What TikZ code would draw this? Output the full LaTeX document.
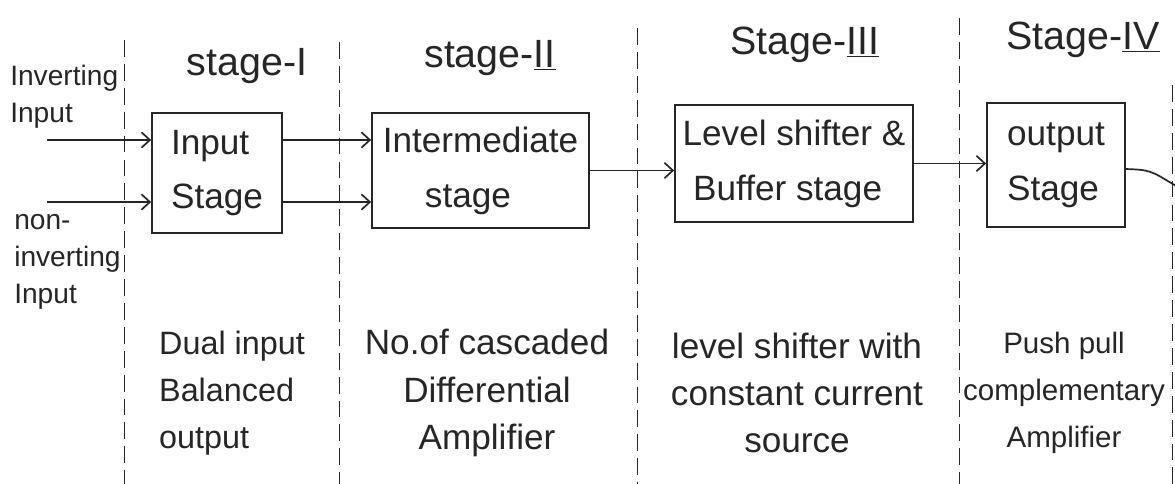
\documentclass[tikz,border=0pt]{standalone}
\usepackage{fontspec}
\setmainfont{Liberation Sans}
\usetikzlibrary{arrows.meta}
\definecolor{inkc}{HTML}{262626}
\begin{document}
\begin{tikzpicture}[x=0.025cm,y=-0.025cm,
  ink/.style={draw=inkc,line width=1.2pt},
  box/.style={ink,rectangle,inner sep=0pt,align=left,text=inkc,font=\fontsize{25}{39}\selectfont},
  arr/.style={ink,-{Straight Barb[length=6pt,width=11pt]}},
  divider/.style={draw=inkc,line width=0.7pt,dash pattern=on 12pt off 5pt},
  stagelbl/.style={text=inkc,inner sep=0pt,font=\fontsize{28}{30}\selectfont},
  sidelbl/.style={text=inkc,inner sep=0pt,align=left,anchor=west,font=\fontsize{20}{26.5}\selectfont},
  desc/.style={text=inkc,inner sep=0pt}]
\fill[white] (0,0) rectangle (1175,484);
\useasboundingbox (0,0) rectangle (1175,484);

% dividers
\draw[divider] (124,40) -- (124,484);
\draw[divider] (339,42) -- (339,484);
\draw[divider] (637,28) -- (637,484);
\draw[divider] (959,18) -- (959,484);
\draw[divider] (1172,85) -- (1172,484);

% stage labels
\node[stagelbl] (s1) at (247,66) {stage-I};
\node[stagelbl] (s2) at (490,58) {stage-\underline{II}};
\node[stagelbl] (s3) at (805,45) {Stage-\underline{III}};
\node[stagelbl] (s4) at (1083,40) {Stage-\underline{IV}};

% boxes
\node[box,minimum width=3.25cm,minimum height=3cm] (b1) at (217,173) {Input\\Stage};
\node[box,minimum width=5.425cm,minimum height=2.875cm] (b2) at (480.5,170.5) {Intermediate\\\hspace{1.2em}stage};
\node[box,minimum width=5.95cm,minimum height=2.925cm] (b3) at (794,163.5) {Level shifter \&\\\hspace{0.3em}Buffer stage};
\node[box,minimum width=3.45cm,minimum height=3.1cm] (b4) at (1056,165) {output\\Stage};

% input labels
\node[sidelbl] (linv) at (10,97) {Inverting\\Input};
\node[sidelbl] (lninv) at (14,262) {non-\\inverting\\Input};

% connectors
\coordinate (inv) at (47,140);
\coordinate (ninv) at (47,202);
\draw[arr] (inv) -- (inv -| b1.west);
\draw[arr] (ninv) -- (ninv -| b1.west);
\draw[arr] (inv -| b1.east) -- (inv -| b2.west);
\draw[arr] (ninv -| b1.east) -- (ninv -| b2.west);
\draw[arr] (b2.east) -- (b2.east -| b3.west);
\draw[arr] (b3.east) -- (b3.east -| b4.west);
\coordinate (out) at (1176,186);
\draw[ink] ([yshift=-0.1cm]b4.east) .. controls (1150,170) .. (out);

% descriptions
\node[desc,align=left,font=\fontsize{23}{33.5}\selectfont] (d1) at (232,393) {Dual input\\Balanced\\output};
\node[desc,align=center,font=\fontsize{25}{33.5}\selectfont] (d2) at (487,393) {No.of cascaded\\Differential\\Amplifier};
\node[desc,align=center,font=\fontsize{25}{33.5}\selectfont] (d3) at (797,393) {level shifter with\\constant current\\source};
\node[desc,align=center,font=\fontsize{21}{33.5}\selectfont] (d4) at (1064,393) {Push pull\\complementary\\Amplifier};
\end{tikzpicture}
\end{document}
